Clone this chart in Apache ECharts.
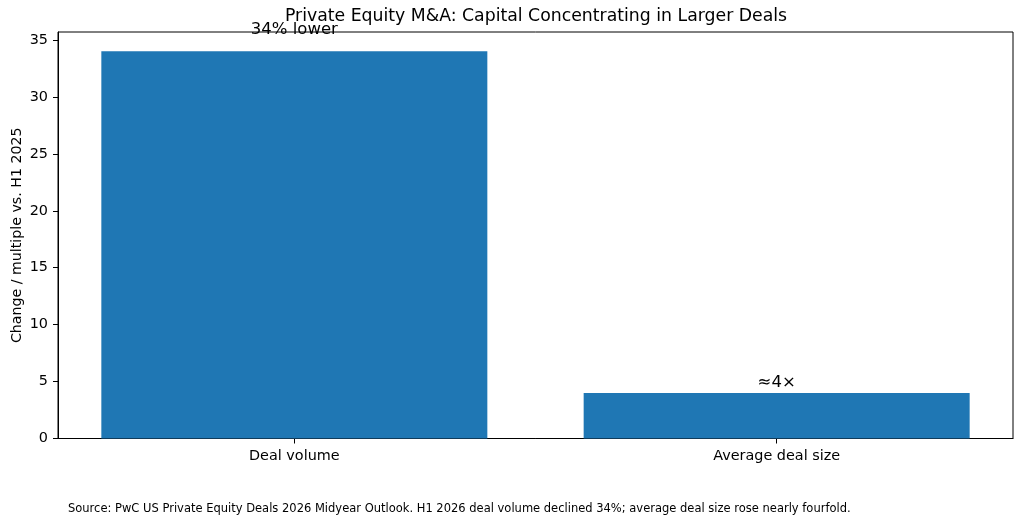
<!DOCTYPE html>
<html>
<head>
<meta charset="utf-8">
<script src="https://cdn.jsdelivr.net/npm/echarts@6/dist/echarts.min.js"></script>
<style>
  html, body { margin: 0; padding: 0; background: #fff; }
  #chart { width: 1024px; height: 525px; }
</style>
</head>
<body>
<div id="chart"></div>
<script>
// chart data
const categories = ['Deal volume', 'Average deal size'];
const values = [34, 4];
const barLabels = ['34% lower', '\u22484\u00d7'];
const yTicks = [0, 5, 10, 15, 20, 25, 30, 35];

const font = 'DejaVu Sans';
const labelGaps = [13, 2]; // label offset above each bar
const xPositions = categories.map((_, i) => i);

const chart = echarts.init(document.getElementById('chart'), null, { renderer: 'canvas' });

const options = {
  backgroundColor: '#fff',
  animation: false,
  title: [
    {
      text: 'Private Equity M&A: Capital Concentrating in Larger Deals',
      left: 531,
      top: 3,
      textAlign: 'center',
      textStyle: { fontFamily: font, fontSize: 17.3, fontWeight: 'normal', color: '#000' }
    },
    {
      text: 'Source: PwC US Private Equity Deals 2026 Midyear Outlook. H1 2026 deal volume declined 34%; average deal size rose nearly fourfold.',
      left: 63,
      top: 498,
      textStyle: { fontFamily: font, fontSize: 11.5, fontWeight: 'normal', color: '#000' }
    }
  ],
  grid: {
    left: 58,
    right: 11,
    top: 32,
    bottom: 86.5,
    outerBoundsMode: 'none',
    show: true,
    borderColor: '#000',
    borderWidth: 1,
    backgroundColor: 'transparent'
  },
  xAxis: {
    type: 'value',
    min: -0.49,
    max: 1.49,
    axisLine: { onZero: false, lineStyle: { color: '#000', width: 1 } },
    axisTick: { show: true, length: 5, customValues: xPositions, lineStyle: { color: '#000' } },
    axisLabel: {
      fontFamily: font, fontSize: 14.4, color: '#000', margin: 11,
      customValues: xPositions,
      formatter: v => categories[Math.round(v)]
    },
    splitLine: { show: false }
  },
  yAxis: {
    type: 'value',
    min: 0,
    max: 35.7,
    name: 'Change / multiple vs. H1 2025',
    nameLocation: 'middle',
    nameGap: 34,
    nameMoveOverlap: false,
    nameTextStyle: { fontFamily: font, fontSize: 14.2, color: '#000' },
    axisLine: { show: true, onZero: false, lineStyle: { color: '#000', width: 1 } },
    axisTick: { show: true, length: 5, customValues: yTicks, lineStyle: { color: '#000' } },
    axisLabel: { fontFamily: font, fontSize: 14.4, color: '#000', margin: 10, customValues: yTicks },
    splitLine: { show: false }
  },
  series: [{
    type: 'bar',
    barWidth: 386,
    itemStyle: { color: '#1f77b4' },
    data: values.map((v, i) => ({
      value: [xPositions[i], v],
      label: {
        show: true,
        position: 'top',
        distance: labelGaps[i],
        formatter: barLabels[i],
        fontFamily: font,
        fontSize: 16.5,
        color: '#000'
      }
    }))
  }]
};

chart.setOption(options);
window.addEventListener('resize', () => chart.resize());
</script>
</body>
</html>
